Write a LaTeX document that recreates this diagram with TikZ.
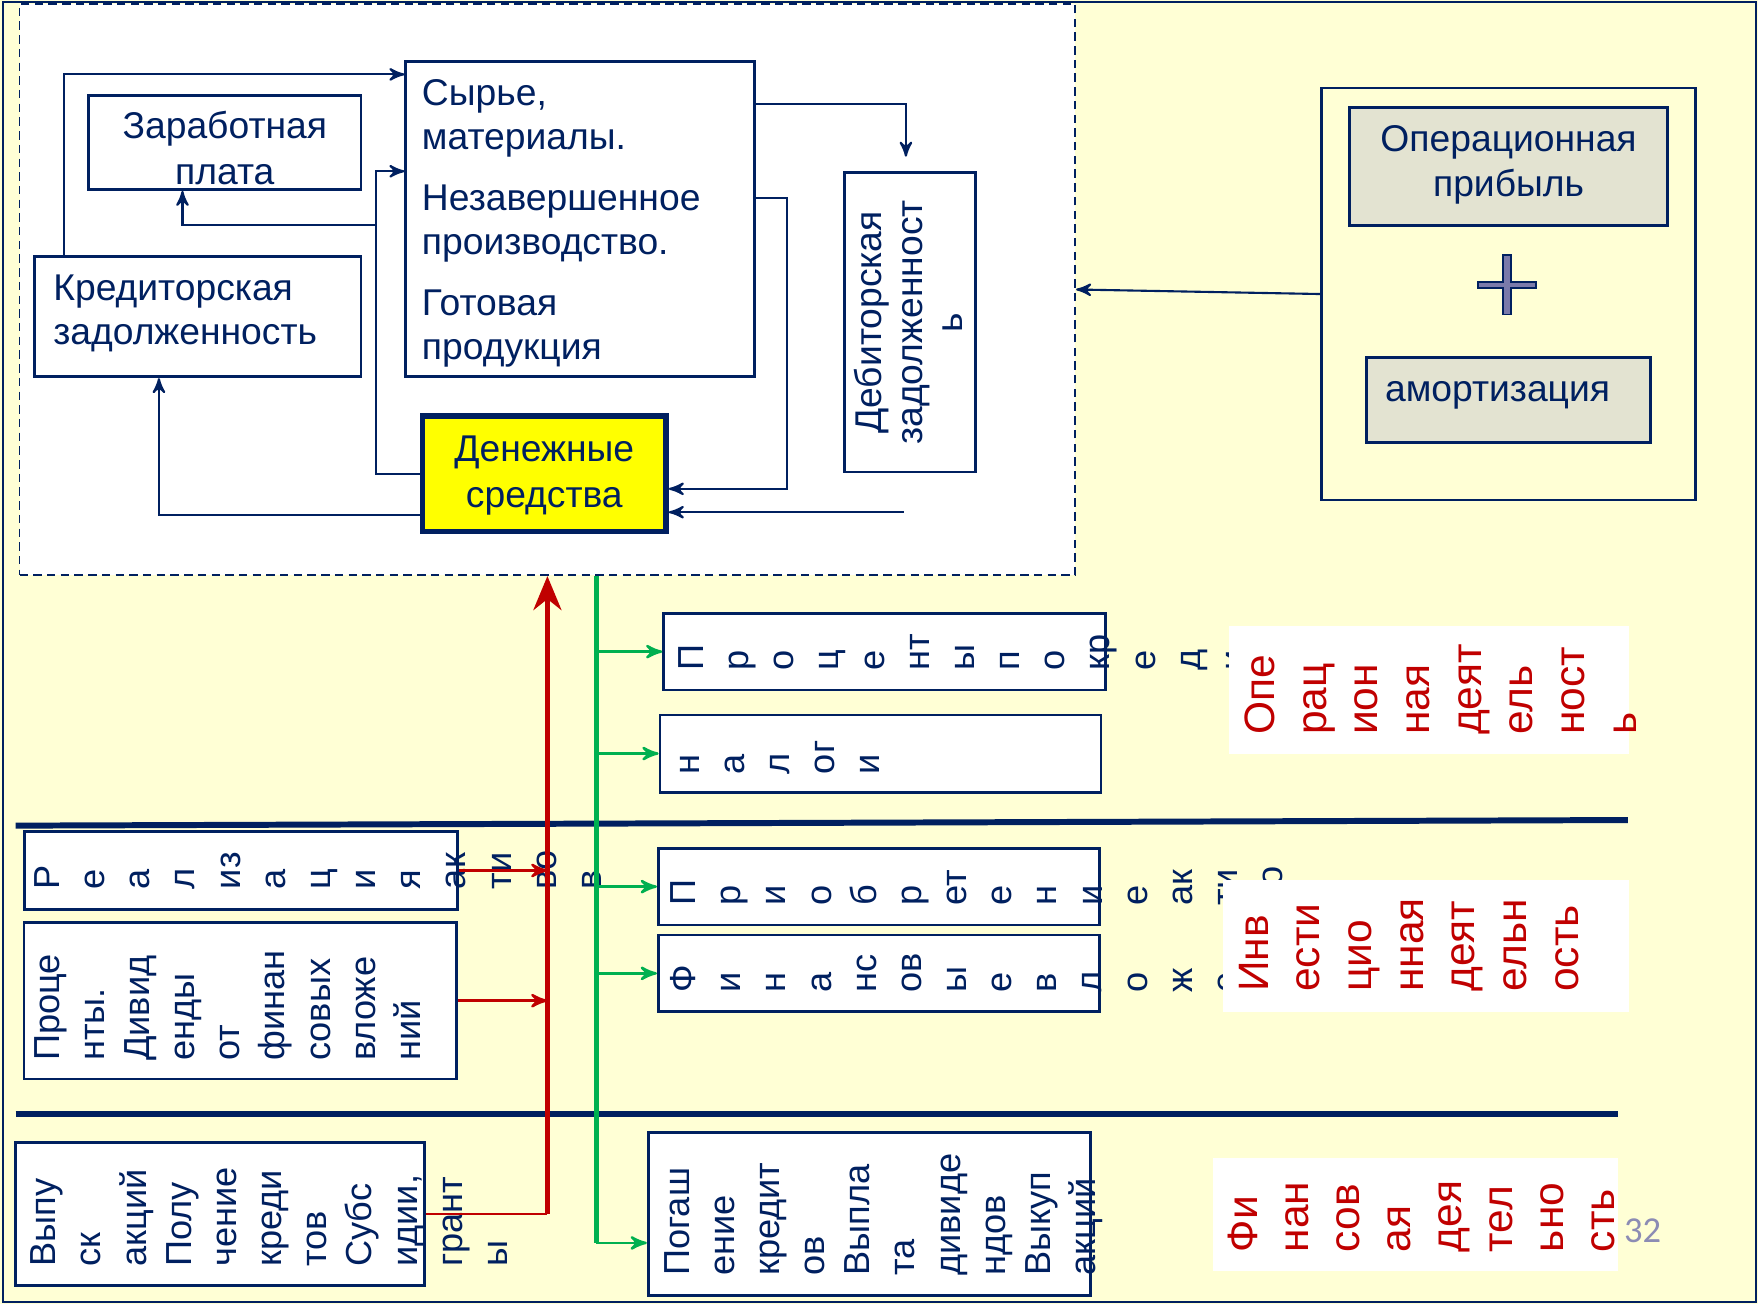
\documentclass[tikz,border=0pt]{standalone}
\usepackage{fontspec}
\setmainfont{Liberation Sans}
\newfontfamily\numfont{Carlito}
\usetikzlibrary{arrows}
\usetikzlibrary{arrows.meta}
\usetikzlibrary{calc}
\usetikzlibrary{fit}

\definecolor{slidenavy}{RGB}{0,32,96}
\definecolor{slidebg}{RGB}{255,255,213}
\definecolor{opgray}{RGB}{227,227,209}
\definecolor{pluscol}{RGB}{122,122,170}
\definecolor{flowred}{RGB}{192,0,0}
\definecolor{flowgreen}{RGB}{0,176,80}
\definecolor{cashyellow}{RGB}{255,255,0}
\definecolor{pagenum}{RGB}{140,140,180}

\tikzset{
	box/.style={draw=slidenavy, line width=0.8pt, fill=white, inner sep=0pt},
	cyclebox/.style={draw=slidenavy, line width=0.5pt, fill=white, inner sep=0pt, dash pattern=on 2.4pt off 1.5pt},
	labelbox/.style={fill=white, inner sep=0pt},
	txt/.style={text=slidenavy, inner sep=0pt, font=\fontsize{10.6}{12.6}\selectfont},
	coltxt/.style={rotate=90, anchor=north west, align=left, inner sep=0pt, text=slidenavy, font=\fontsize{10.3}{12.85}\selectfont},
	redcol/.style={coltxt, text=flowred, font=\fontsize{12.1}{14.7}\selectfont},
	conn/.style={->, >=stealth', draw=slidenavy, line width=0.6pt},
	sepline/.style={draw=slidenavy, line width=1.7pt},
	gline/.style={draw=flowgreen, line width=1.3pt},
	gflow/.style={->, >=stealth', draw=flowgreen, line width=0.7pt},
	rline/.style={draw=flowred, line width=1.4pt, -{Stealth[length=3.4mm, width=2.8mm]}},
	rthin/.style={draw=flowred, line width=0.7pt},
	rflow/.style={->, >=stealth', draw=flowred, line width=0.7pt},
	plussign/.style={draw=slidenavy, fill=pluscol, line width=0.5pt}
}

\begin{document}
\begin{tikzpicture}[x=0.11212mm, y=-0.11212mm]
	\useasboundingbox (0,0) rectangle (1568,1163);
	\fill[slidebg] (0,0) rectangle (1568,1163);
	\draw[slidenavy, line width=0.6pt] (2.5,2) rectangle (1566,1161);

	% working capital cycle
	\node[cyclebox, fit={(17.5,3.4) (959,513)}] (cycle) {};
	\node[box, fit={(79,85) (322,169)}] (zarp) {};
	\node[txt, align=center, font=\fontsize{10.6}{13.1}\selectfont] (zarp-t) at ($(zarp.center)+(0,5)$) {Заработная\\плата};
	\node[box, fit={(31,229) (322,336)}] (kred) {};
	\node[txt, anchor=north west, align=left, font=\fontsize{10.6}{12.4}\selectfont] (kred-t) at ($(kred.north west)+(17.2,12.4)$) {\strut Кредиторская\\задолженность};
	\node[box, fit={(362,55) (673,336)}] (syr) {};
	\node[txt, anchor=north west, align=left] (syr-t) at ($(syr.north west)+(15,12)$) {\strut Сырье,\\материалы.\\[4.7pt]Незавершенное\\производство.\\[4.7pt]Готовая\\продукция};
	\node[box, fill=cashyellow, line width=1.6pt, fit={(377,371) (594,474)}] (den) {};
	\node[txt, align=center, font=\fontsize{10.6}{13.05}\selectfont] (den-t) at ($(den.center)+(0,1.5)$) {Денежные\\средства};
	\node[box, fit={(753,154) (870,421)}] (deb) {};
	\node[txt, rotate=90, align=center, font=\fontsize{10.6}{11.5}\selectfont] (deb-t) at ($(deb.center)+(-1,0)$) {Дебиторская\\задолженност\\ь};

	\draw[conn] ($(kred.north west)+(27,0)$) |- ($(syr.north west)+(0,12.6)$);
	\draw[conn] (den.west) -- ++(-39,0) |- ($(syr.north west)+(0,99)$);
	\coordinate (split) at ($(den.west)+(-39,-221.5)$);
	\draw[conn] (split) -| ($(zarp.south west)+(85,0)$);
	\draw[conn] ($(den.south west)+(0,-17)$) -| ($(kred.south west)+(112,0)$);
	\draw[conn] ($(syr.north east)+(0,39)$) -| ($(deb.north)+(-3.5,-13)$);
	\draw[conn] ($(syr.north east)+(0,123)$) -- ++(28,0) |- ($(den.east)+(0,13.5)$);
	\coordinate (recv) at ($(deb.south)+(-5.5,34.6)$);
	\draw[conn] (recv) -- (recv -| den.east);

	% sources of cash
	\node[box, fill=none, fit={(1179,78.5) (1512,446)}] (oper) {};
	\node[box, fill=opgray, fit={(1204,95.6) (1487,201.4)}] (opprib) {};
	\node[txt, align=center, font=\fontsize{10.6}{12.7}\selectfont] (opprib-t) at ($(opprib.center)+(0,-1.5)$) {Операционная\\прибыль};
	\draw[plussign, shift={(1344,254)}] (-26,-2.8) -- (-3.4,-2.8) -- (-3.4,-26.5) -- (3.4,-26.5) -- (3.4,-2.8) -- (26,-2.8) -- (26,2.8) -- (3.4,2.8) -- (3.4,26.5) -- (-3.4,26.5) -- (-3.4,2.8) -- (-26,2.8) -- cycle;
	\node[box, fill=opgray, fit={(1219,318.5) (1472,394.5)}] (amort) {};
	\node[txt, anchor=base west] (amort-t) at ($(amort.west)+(17,1.5)$) {амортизация};
	\draw[conn] (oper.west) -- (cycle.east);

	\draw[sepline] (14,736.4) -- (1452,731.4);
	\draw[sepline] (14,994) -- (1443,994);

	% operating
	\node[box, fit={(592,547) (986,615.4)}] (pkred) {};
	\node[coltxt] (pkred-t) at ($(pkred.south west)+(7.9,-17.9)$) {\strut П\\р\\о\\ц\\е\\нт\\ы\\п\\о\\кр\\е\\д\\и};
	\node[box, fit={(588.7,637.7) (982,706.5)}] (nalog) {};
	\node[coltxt] (nalog-t) at ($(nalog.south west)+(7.2,-16.7)$) {\strut н\\а\\л\\ог\\и};

	% investing
	\node[box, fit={(21.6,741.8) (408.3,811)}] (realiz) {};
	\node[coltxt] (realiz-t) at ($(realiz.south west)+(3.8,-18.7)$) {\strut Р\\е\\а\\л\\из\\а\\ц\\и\\я\\ак\\ти\\во\\в};
	\node[box, fit={(21.4,822.6) (407.3,962.4)}] (procdiv) {};
	\node[coltxt] (procdiv-t) at ($(procdiv.south west)+(3.8,-16.9)$) {\strut Проце\\нты.\\Дивид\\енды\\от\\финан\\совых\\вложе\\ний};
	\node[box, fit={(587.2,756.6) (980.8,825)}] (priobr) {};
	\node[coltxt] (priobr-t) at ($(priobr.south west)+(5.6,-17.8)$) {\strut П\\р\\и\\о\\б\\р\\ет\\е\\н\\и\\е\\ак\\ти\\во};
	\node[box, fit={(587.2,834) (980.8,902.3)}] (finvl) {};
	\node[coltxt] (finvl-t) at ($(finvl.south west)+(5.6,-17.8)$) {\strut Ф\\и\\н\\а\\нс\\ов\\ы\\е\\в\\л\\о\\ж\\е};

	% financing
	\node[box, fit={(14,1018.8) (378.5,1146.7)}] (vypusk) {};
	\node[coltxt] (vypusk-t) at ($(vypusk.south west)+(8.2,-17.6)$) {\strut Выпу\\ск\\акций\\Полу\\чение\\креди\\тов\\Субс\\идии,\\грант\\ы};
	\node[box, fit={(578.2,1009.9) (972.8,1155.6)}] (pogash) {};
	\node[coltxt] (pogash-t) at ($(pogash.south west)+(8.9,-18.4)$) {\strut Погаш\\ение\\кредит\\ов\\Выпла\\та\\дивиде\\ндов\\Выкуп\\акций};

	% inflows and outflows
	\draw[rthin] (vypusk.east) -- (vypusk.east -| cycle.south);
	\draw[rline] (vypusk.east -| cycle.south) -- (cycle.south);
	\draw[rflow] (realiz.east) -- (realiz.east -| cycle.south);
	\draw[rflow] (procdiv.east) -- (procdiv.east -| cycle.south);
	\coordinate (gtop) at ($(cycle.south)+(43.75,0)$);
	\coordinate (gend) at ($(pogash.west)+(0,25.85)$);
	\draw[gline] (gtop) -- (gtop |- gend);
	\draw[gflow] (gtop |- pkred.west) -- (pkred.west);
	\draw[gflow] (gtop |- nalog.west) -- (nalog.west);
	\draw[gflow] (gtop |- priobr.west) -- (priobr.west);
	\draw[gflow] (gtop |- finvl.west) -- (finvl.west);
	\draw[gflow] (gtop |- gend) -- (gend);

	% activity labels
	\node[labelbox, fit={(1096,558.3) (1453,672.5)}] (opdeyat) {};
	\node[redcol] (opdeyat-t) at ($(opdeyat.south west)+(8.6,-17)$) {\strut Опе\\рац\\ион\\ная\\деят\\ель\\ност\\ь};
	\node[labelbox, fit={(1090.5,784.9) (1453,902.3)}] (invdeyat) {};
	\node[redcol] (invdeyat-t) at ($(invdeyat.south west)+(8.3,-17.8)$) {\strut Инв\\ести\\цио\\нная\\деят\\ельн\\ость};
	\node[labelbox, fit={(1082,1032.5) (1443,1133.8)}] (findeyat) {};
	\node[redcol, font=\fontsize{12.1}{14.5}\selectfont] (findeyat-t) at ($(findeyat.south west)+(8,-17)$) {\strut Фи\\нан\\сов\\ая\\дея\\тел\\ьно\\сть};

	\node[text=pagenum, inner sep=0pt, font=\numfont\fontsize{10.4}{12}\selectfont] (slide) at (1465,1097.5) {32};
\end{tikzpicture}
\end{document}
